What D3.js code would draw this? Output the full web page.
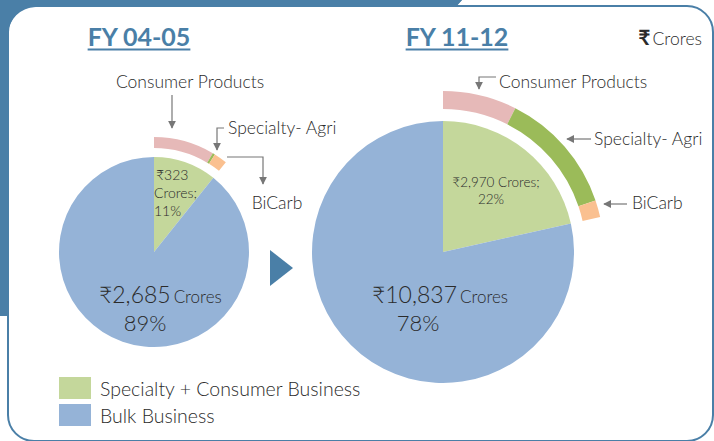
<!DOCTYPE html>
<html>
<head>
<meta charset="utf-8">
<script src="https://cdn.jsdelivr.net/npm/d3@7"></script>
<style>
  body { margin: 0; background: #fff; }
  svg { display: block; font-family: Lato, "Noto Sans", "DejaVu Sans", sans-serif; }
  .lt { font-weight: 300; }
</style>
</head>
<body>
<svg id="chart" width="714" height="441"></svg>
<script>
// data
const years = ["FY 04-05", "FY 11-12"];
const segments = ["Specialty + Consumer Business", "Bulk Business"];
const specialty = [323, 2970];
const bulk = [2685, 10837];
const ringNames = ["Consumer Products", "Specialty- Agri", "BiCarb"];
const consumerProducts = [257, 1024];
const specialtyAgri = [10, 1712];
const bicarb = [56, 234];

const BLUE = "#4a7fa7";
const pieColor = d3.scaleOrdinal().domain(segments).range(["#c4d79b", "#95b3d7"]);
const ringColor = d3.scaleOrdinal().domain(ringNames).range(["#e6b9b8", "#9bbb59", "#fac090"]);
const fmt = d3.format(",");

const svg = d3.select("#chart");

// frame
svg.append("path")
  .attr("d", "M0,0H462L455,8H40V40H8V316H0Z")
  .attr("fill", BLUE);
svg.append("rect")
  .attr("x", 8).attr("y", 6).attr("width", 705).attr("height", 435).attr("rx", 26)
  .attr("fill", "#fff").attr("stroke", BLUE).attr("stroke-width", 2);
svg.append("path")
  .attr("d", "M0,0H462L455,7H8V316H0Z")
  .attr("fill", BLUE);
svg.append("path")
  .attr("d", "M8,7H36A28,28 0 0 0 8,35Z")
  .attr("fill", BLUE);

const defs = svg.append("defs");
defs.append("marker")
  .attr("id", "arr").attr("viewBox", "0 0 10 10").attr("refX", 9).attr("refY", 5)
  .attr("markerWidth", 8).attr("markerHeight", 8).attr("markerUnits", "userSpaceOnUse")
  .attr("orient", "auto")
  .append("path").attr("d", "M0,0L10,5L0,10Z").attr("fill", "#777");

// layout per year
const layout = [
  { cx: 154, cy: 252, r: 95, r0: 104, r1: 115, titleX: 139 },
  { cx: 443, cy: 252, r: 131, r0: 143, r1: 161, titleX: 457 }
];

const pie = d3.pie().sort(null).value(d => d.value);

years.forEach((year, i) => {
  const L = layout[i];
  const g = svg.append("g").attr("transform", `translate(${L.cx},${L.cy})`);
  const slices = pie([
    { name: segments[0], value: specialty[i] },
    { name: segments[1], value: bulk[i] }
  ]);
  const arc = d3.arc().innerRadius(0).outerRadius(L.r);
  g.selectAll("path.slice").data(slices).join("path")
    .attr("class", "slice")
    .attr("d", arc)
    .attr("fill", d => pieColor(d.data.name));

  const ringPie = d3.pie().sort(null).value(d => d.value)
    .startAngle(0).endAngle(slices[0].endAngle);
  const ring = ringPie([
    { name: ringNames[0], value: consumerProducts[i] },
    { name: ringNames[1], value: specialtyAgri[i] },
    { name: ringNames[2], value: bicarb[i] }
  ]);
  const ringArc = d3.arc().innerRadius(L.r0).outerRadius(L.r1);
  g.selectAll("path.ring").data(ring).join("path")
    .attr("class", "ring")
    .attr("d", ringArc)
    .attr("fill", d => ringColor(d.data.name));

  // title
  const t = svg.append("text")
    .attr("x", L.titleX).attr("y", 46)
    .attr("text-anchor", "middle")
    .attr("font-size", 25).attr("font-weight", "bold")
    .attr("fill", BLUE)
    .text(year);
  const w = t.node().getComputedTextLength();
  svg.append("line")
    .attr("x1", L.titleX - w / 2).attr("x2", L.titleX + w / 2)
    .attr("y1", 49.5).attr("y2", 49.5)
    .attr("stroke", BLUE).attr("stroke-width", 2);
});

const total = years.map((d, i) => specialty[i] + bulk[i]);
const pct = (v, i) => Math.round(v / total[i] * 100) + "%";
const TXT = "#2b2b2b";

// inner labels, FY 04-05
const sl = svg.append("text").attr("class", "lt").attr("font-size", 14).attr("fill", TXT);
sl.append("tspan").attr("x", 156).attr("y", 180).text("₹" + fmt(specialty[0]));
sl.append("tspan").attr("x", 154).attr("y", 198).text("Crores;");
sl.append("tspan").attr("x", 154).attr("y", 216).text(pct(specialty[0], 0));

const bl = svg.append("text").attr("class", "lt").attr("x", 99).attr("y", 303).attr("fill", TXT);
bl.append("tspan").attr("font-size", 23).text("₹" + fmt(bulk[0]));
bl.append("tspan").attr("font-size", 17).attr("dx", 3).text("Crores");
svg.append("text").attr("class", "lt").attr("x", 145).attr("y", 331).attr("text-anchor", "middle")
  .attr("font-size", 22).attr("fill", TXT).text(pct(bulk[0], 0));

// inner labels, FY 11-12
svg.append("text").attr("class", "lt").attr("x", 496).attr("y", 187).attr("text-anchor", "middle")
  .attr("font-size", 13.5).attr("fill", TXT).text("₹" + fmt(specialty[1]) + " Crores;");
svg.append("text").attr("class", "lt").attr("x", 491).attr("y", 204).attr("text-anchor", "middle")
  .attr("font-size", 13.5).attr("fill", TXT).text(pct(specialty[1], 1));

const br = svg.append("text").attr("class", "lt").attr("x", 372).attr("y", 303).attr("fill", TXT);
br.append("tspan").attr("font-size", 23).text("₹" + fmt(bulk[1]));
br.append("tspan").attr("font-size", 17).attr("dx", 3).text("Crores");
svg.append("text").attr("class", "lt").attr("x", 418).attr("y", 331).attr("text-anchor", "middle")
  .attr("font-size", 22).attr("fill", TXT).text(pct(bulk[1], 1));

// ring callouts
const callouts = [
  { text: ringNames[0], x: 190, y: 88, anchor: "middle", path: "M172,95V128" },
  { text: ringNames[1], x: 228, y: 134, anchor: "start", path: "M224,128H217V150" },
  { text: ringNames[2], x: 277, y: 209, anchor: "middle", path: "M227,157H263V184" },
  { text: ringNames[0], x: 499, y: 88, anchor: "start", path: "M496,77H479V89" },
  { text: ringNames[1], x: 594, y: 145, anchor: "start", path: "M591,139H567" },
  { text: ringNames[2], x: 632, y: 209, anchor: "start", path: "M627,204H604" }
];
callouts.forEach(c => {
  svg.append("path").attr("d", c.path).attr("fill", "none")
    .attr("stroke", "#777").attr("stroke-width", 1.2).attr("marker-end", "url(#arr)");
  svg.append("text").attr("class", "lt").attr("x", c.x).attr("y", c.y).attr("text-anchor", c.anchor)
    .attr("font-size", 17.5).attr("fill", TXT).text(c.text);
});

// unit
const u = svg.append("text").attr("class", "lt").attr("x", 702).attr("y", 45).attr("text-anchor", "end")
  .attr("fill", TXT);
u.append("tspan").attr("font-size", 21).attr("font-weight", "bold").text("₹");
u.append("tspan").attr("font-size", 17.5).attr("dx", 2).text("Crores");

// arrow between pies
svg.append("path").attr("d", "M270,250L293,268L270,286Z").attr("fill", BLUE);

// legend
const lg = svg.append("g").selectAll("g").data(segments).join("g")
  .attr("transform", (d, i) => `translate(59,${377 + i * 27})`);
lg.append("rect").attr("width", 32).attr("height", 22).attr("fill", d => pieColor(d));
lg.append("text").attr("class", "lt").attr("x", 41).attr("y", 19).attr("font-size", 19.5)
  .attr("fill", TXT).text(d => d);
</script>
</body>
</html>
